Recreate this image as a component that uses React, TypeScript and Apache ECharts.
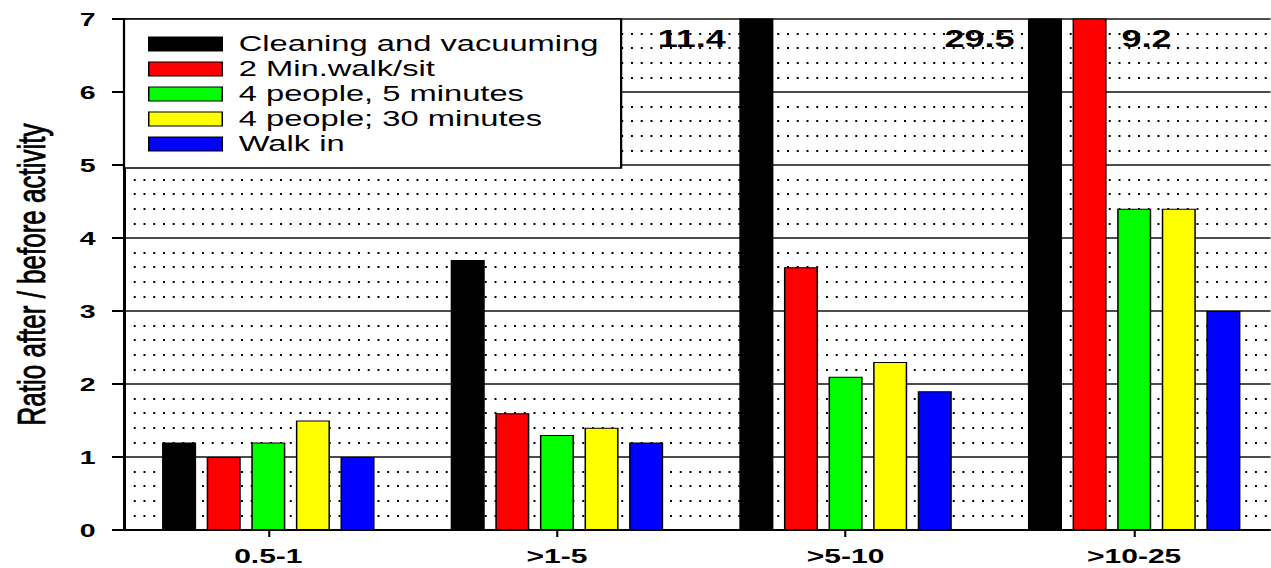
import React, { useEffect, useRef } from "react";
import * as echarts from "echarts";

const categories = ["0.5-1", ">1-5", ">5-10", ">10-25"];
const seriesNames = [
  "Cleaning and vacuuming",
  "2 Min.walk/sit",
  "4 people, 5 minutes",
  "4 people; 30 minutes",
  "Walk in",
];
const cleaning = [1.2, 3.7, 11.4, 29.5];
const walkSit = [1.0, 1.6, 3.6, 9.2];
const people5 = [1.2, 1.3, 2.1, 4.4];
const people30 = [1.5, 1.4, 2.3, 4.4];
const walkIn = [1.0, 1.2, 1.9, 3.0];
const seriesValues = [cleaning, walkSit, people5, people30, walkIn];
const seriesColors = ["#000000", "#ff0000", "#00ff00", "#ffff00", "#0000ff"];
// side on which an off-scale value is written
const overflowSide = ["left", "right", "left", "left", "left"];

const Y_MIN = 0;
const Y_MAX = 7;
const Y_INTERVAL = 1;

const S = 1.5; // horizontal stretch of the whole figure
const W = 1271 / S;
const H = 568;
const FONT = "'Liberation Sans', Arial, Helvetica, sans-serif";
const BAR_W = 22.7;

export default function App() {
  const ref = useRef<HTMLDivElement>(null);

  useEffect(() => {
    document.body.style.margin = "0";
    document.body.style.overflow = "hidden";
    if (!ref.current) return;
    const chart = echarts.init(ref.current, null, { renderer: "svg" });

    const series = seriesNames.map((name, si) => ({
      name,
      type: "bar",
      barWidth: BAR_W,
      barGap: "31%",
      clip: true,
      itemStyle: { color: seriesColors[si], borderColor: "#000", borderWidth: 1 },
      data: seriesValues[si].map((v) => {
        if (v <= Y_MAX) return v;
        const left = overflowSide[si] === "left";
        return {
          value: v,
          label: {
            show: true,
            formatter: String(v),
            position: left ? [-9, 20] : [BAR_W + 10, 20],
            align: left ? "right" : "left",
            verticalAlign: "middle",
            fontFamily: FONT,
            fontWeight: "bold",
            fontSize: 24,
            color: "#000",
          },
        };
      }),
    }));

    chart.setOption({
      animation: false,
      backgroundColor: "#fff",
      textStyle: { fontFamily: FONT },
      grid: {
        left: 124 / S,
        right: W - 1279 / S,
        top: 19,
        bottom: H - 530,
        containLabel: false,
        outerBoundsMode: "none",
      },
      legend: {
        orient: "vertical",
        left: 124 / S,
        top: 19,
        itemWidth: 49,
        itemHeight: 14,
        itemGap: 3,
        padding: [14, 15, 13, 16],
        backgroundColor: "#fff",
        borderColor: "#000",
        borderWidth: 1.5,
        icon: "rect",
        itemStyle: { borderColor: "#000", borderWidth: 1 },
        textStyle: {
          fontFamily: FONT,
          fontSize: 21.8,
          lineHeight: 21,
          color: "#000",
          padding: [0, 0, 0, 6],
        },
        data: seriesNames,
        z: 10,
      },
      xAxis: {
        type: "category",
        data: categories,
        axisLine: { show: true, lineStyle: { color: "#000", width: 2 } },
        axisTick: { show: true, alignWithLabel: true, length: 7, lineStyle: { color: "#000", width: 1.4 } },
        axisLabel: { fontFamily: FONT, fontWeight: "bold", fontSize: 20, color: "#000", margin: 16 },
        splitLine: { show: false },
      },
      yAxis: {
        type: "value",
        min: Y_MIN,
        max: Y_MAX,
        interval: Y_INTERVAL,
        name: "Ratio after / before activity",
        nameLocation: "middle",
        nameGap: 49,
        nameRotate: 90,
        nameTextStyle: {
          fontFamily: FONT,
          fontSize: 26,
          color: "#000",
          textBorderColor: "#000",
          textBorderWidth: 0.6,
        },
        axisLine: { show: true, lineStyle: { color: "#000", width: 2 } },
        axisTick: { show: true, length: 8, lineStyle: { color: "#000", width: 2 } },
        axisLabel: { fontFamily: FONT, fontWeight: "bold", fontSize: 19, color: "#000", margin: 19 },
        splitLine: { show: true, lineStyle: { color: "#111", width: 1.5 } },
        minorTick: { show: false, splitNumber: 5 },
        minorSplitLine: { show: true, lineStyle: { color: "#000", width: 1.8, type: [1.3, 5.2] } },
      },
      series,
    });

    return () => chart.dispose();
  }, []);

  return (
    <div style={{ width: 1271, height: H, overflow: "hidden", position: "relative" }}>
      <div
        ref={ref}
        style={{
          width: W,
          height: H,
          transform: `scaleX(${S})`,
          transformOrigin: "0 0",
          position: "absolute",
          left: 0,
          top: 0,
        }}
      />
    </div>
  );
}
